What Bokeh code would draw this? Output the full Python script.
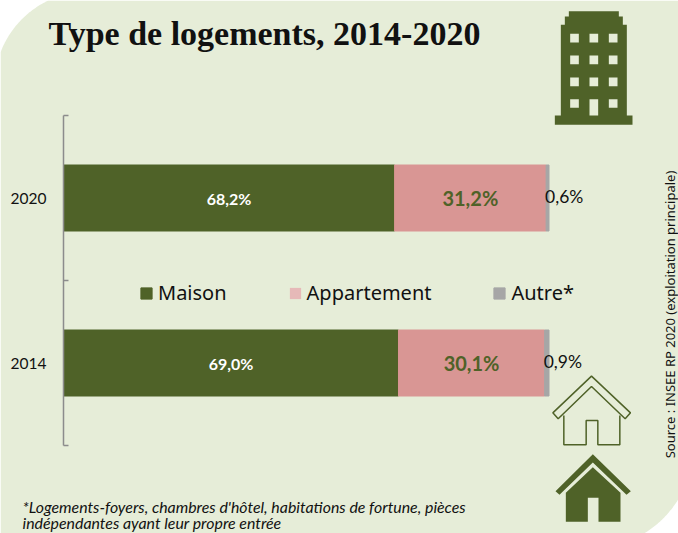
import numpy as np
from bokeh.embed import file_html
from bokeh.resources import INLINE
from bokeh.plotting import figure
from bokeh.models import ColumnDataSource, FixedTicker, Legend, LegendItem, Range1d
from bokeh.core.properties import value

years = ["2014", "2020"]
maison = [69.0, 68.2]
appartement = [30.1, 31.2]
autre = [0.9, 0.6]
maison_labels = ["69,0%", "68,2%"]
appartement_labels = ["30,1%", "31,2%"]
autre_labels = ["0,9%", "0,6%"]
series_names = ["Maison", "Appartement", "Autre*"]
title_text = "Type de logements, 2014-2020"
source_text = "Source : INSEE RP 2020 (exploitation principale)"
note_lines = ["*Logements-foyers, chambres d'hôtel, habitations de fortune, pièces",
              "indépendantes ayant leur propre entrée"]

GREEN = "#4F6228"
PINK = "#D99694"
PINK_KEY = "#E6B9B8"
GRAY = "#A6A6A6"
BG = "#E6EDD8"
INK = "#111111"
W, H = 678, 533

# frame fills the canvas; these ranges put 0-100 % on x 63-548.5 px and the two bands on y 445-115 px
PX_PER_PCT = 4.855
PX_PER_BAND = 165

pos = [i + 0.5 for i in range(len(years))]
m_end = np.array(maison)
a_end = m_end + np.array(appartement)
o_end = a_end + np.array(autre)
src = ColumnDataSource(dict(
    y=pos, m0=[0, 0], m1=m_end, a1=a_end, o1=o_end,
    mx=m_end / 2, ax=m_end + np.array(appartement) / 2, ox=a_end,
    ml=maison_labels, al=appartement_labels, ol=autre_labels))

p = figure(width=W, height=H, output_backend="svg", toolbar_location=None,
           x_range=Range1d(-63 / PX_PER_PCT, (W - 63) / PX_PER_PCT),
           y_range=Range1d(-(H - 445) / PX_PER_BAND, 2 + 115 / PX_PER_BAND),
           min_border=0, background_fill_color="white", border_fill_color="white",
           outline_line_color=None, margin=(0, 0, 0, 0))
p.extra_x_ranges["px"] = Range1d(0, W)
p.extra_y_ranges["px"] = Range1d(H, 0)
p.grid.visible = False
p.xaxis.visible = False

ax = p.yaxis[0]
ax.fixed_location = 0
ax.bounds = (0, 2)
ax.ticker = FixedTicker(ticks=pos, minor_ticks=[0, 1, 2])
ax.major_label_overrides = {q: y for q, y in zip(pos, years)}
ax.axis_line_color = "#8C8C8C"
ax.axis_line_width = 1.5
ax.major_tick_line_color = None
ax.major_tick_in = 0
ax.major_tick_out = 0
ax.minor_tick_line_color = "#8C8C8C"
ax.minor_tick_line_width = 1.5
ax.minor_tick_in = 5
ax.minor_tick_out = 0
ax.major_label_standoff = 17
ax.major_label_text_font = "Lato"
ax.major_label_text_font_size = "15.5px"
ax.major_label_text_color = INK


def poly(xs, ys, fill=None, line=None, lw=1.0, level="glyph"):
    p.patch(x=list(xs), y=list(ys), x_range_name="px", y_range_name="px",
            fill_color=fill, fill_alpha=1 if fill else 0,
            line_color=line, line_alpha=1 if line else 0, line_width=lw, level=level)


def note(x, y, text, **kw):
    p.text(x=[x], y=[y], text=[text], x_range_name="px", y_range_name="px",
           text_baseline="middle", **kw)


# rounded panel
R1, R2 = 94, 103
cx1, cy1, cx2, cy2 = 88, 85, 590, 445
t1 = np.linspace(np.pi + np.arccos(cx1 / R1), 1.5 * np.pi - np.arccos(cy1 / R1), 40)
t2 = np.linspace(np.arccos((W - cx2) / R2), 0.5 * np.pi - np.arccos((H - cy2) / R2), 40)
tl_x, tl_y = cx1 + R1 * np.cos(t1), cy1 + R1 * np.sin(t1)
br_x, br_y = cx2 + R2 * np.cos(t2), cy2 + R2 * np.sin(t2)
poly(list(tl_x) + [W] + list(br_x) + [0],
     list(tl_y) + [0] + list(br_y) + [H], fill=BG, level="underlay")

key_pink = p.hbar(y="y", left="m1", right="m1", height=0.4, fill_color=PINK_KEY, line_color=None, source=src)
b1 = p.hbar(y="y", left="m0", right="m1", height=0.4, color=GREEN, source=src)
b2 = p.hbar(y="y", left="m1", right="a1", height=0.4, color=PINK, source=src)
b3 = p.hbar(y="y", left="a1", right="o1", height=0.4, color=GRAY, source=src)

p.text(x="mx", y="y", text="ml", source=src, text_color="white", text_font=value("Lato"),
       text_font_style="bold", text_font_size="16px", text_align="center", text_baseline="middle")
p.text(x="ax", y="y", text="al", source=src, text_color=GREEN, text_font=value("Lato"),
       text_font_style="bold", text_font_size="20px", text_align="center", text_baseline="middle")
p.text(x="ox", y="y", text="ol", source=src, text_color=INK, text_font=value("Lato"),
       text_font_size="17.5px", text_align="left", text_baseline="middle", x_offset=-1, y_offset=-2)

legend = Legend(items=[LegendItem(label=n, renderers=[r])
                       for n, r in zip(series_names, (b1, key_pink, b3))],
                orientation="horizontal", location=(139, 227), background_fill_alpha=0,
                border_line_color=None, glyph_width=14, glyph_height=14, label_standoff=5,
                spacing=61, padding=0, margin=0,
                label_text_font="Noto Sans", label_text_font_size="20px", label_text_color=INK)
p.add_layout(legend, "center")

note(48, 33, title_text, text_font=value("Liberation Serif"), text_font_style="bold",
     text_font_size="34px", text_color=INK)
p.text(x=[669], y=[314], text=[source_text], x_range_name="px", y_range_name="px", angle=np.pi / 2,
       text_font=value("Noto Sans"), text_font_size="13px", text_color=INK,
       text_align="center", text_baseline="middle")
for ln, yy in zip(note_lines, (506, 522)):
    note(22, yy, ln, text_font=value("Lato"), text_font_style="italic", text_font_size="15.9px",
         text_color=INK)


def zoomed(pts, ox, oy):
    return [ox + a / 3 for a, _ in pts], [oy + b / 3 for _, b in pts]


# building
bx, by = zoomed([(145, 32), (295, 32), (295, 48), (307, 48), (307, 73), (319, 73), (319, 345), (336, 345),
                 (336, 373), (103, 373), (103, 345), (121, 345), (121, 73), (133, 73), (133, 48), (145, 48)], 520, 0)
poly(bx, by, fill=GREEN)
for c in (149, 207, 265):
    for r in (100, 165, 231, 296):
        bottom = 345 if (c == 207 and r == 296) else r + 26
        wx, wy = zoomed([(c, r), (c + 26, r), (c + 26, bottom), (c, bottom)], 520, 0)
        poly(wx, wy, fill=BG)

# outline house
hx, hy = zoomed([(213, 47), (330, 157), (314, 175), (213, 78), (113, 175), (97, 157)], 520, 360)
poly(hx, hy, line=GREEN, lw=1.5)
hx, hy = zoomed([(130, 165), (130, 253), (197, 253), (197, 180), (232, 180), (232, 253), (298, 253), (298, 165)],
                520, 360)
p.line(x=hx, y=hy, x_range_name="px", y_range_name="px", line_color=GREEN, line_width=1.5)

# solid house
hx, hy = zoomed([(217, 281), (331, 392), (318, 403), (217, 306), (117, 403), (105, 392)], 520, 360)
poly(hx, hy, fill=GREEN)
hx, hy = zoomed([(217, 320), (300, 397), (300, 484), (234, 484), (234, 412), (202, 412), (202, 484), (136, 484),
                 (136, 397)], 520, 360)
poly(hx, hy, fill=GREEN)

open("out.html", "w").write(file_html(p, INLINE))
